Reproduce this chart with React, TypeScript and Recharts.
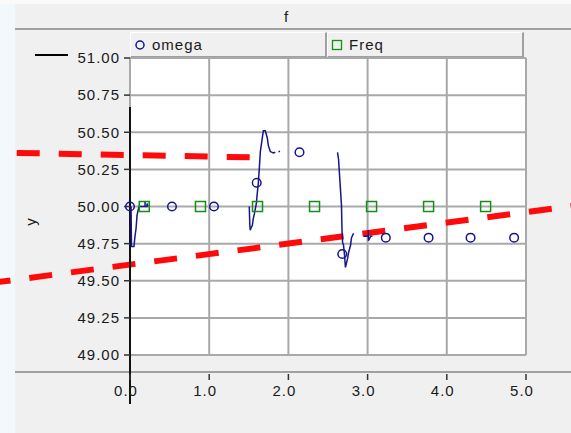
import React from 'react'
import { ComposedChart, Line, Scatter, XAxis, YAxis, CartesianGrid, ReferenceLine } from 'recharts'

// axis ticks
const xTicks = [0, 1, 2, 3, 4, 5]
const yTicks = [49, 49.25, 49.5, 49.75, 50, 50.25, 50.5, 50.75, 51]

// sampled points (circles / squares)
const omegaT = [0, 0.53, 1.06, 1.6, 2.14, 2.68, 3.23, 3.77, 4.3, 4.85]
const omegaV = [50.0, 50.0, 50.0, 50.16, 50.365, 49.68, 49.79, 49.79, 49.79, 49.79]
const freqT = [0.18, 0.89, 1.61, 2.33, 3.05, 3.77, 4.49]
const freqV = [50.0, 50.0, 50.0, 50.0, 50.0, 50.0, 50.0]

// continuous trace, null = gap
const traceT = [
  0.013, 0.019, 0.05, 0.063, 0.076, 0.089, 0.1, 0.114, 0.19, 0.19, 0.19, 0.215, 0.215, 0.228, 0.23,
  1.506, 1.513, 1.519, 1.53, 1.544, 1.557, 1.57, 1.595, 1.608, 1.62, 1.633, 1.646, 1.67, 1.684, 1.709, 1.734, 1.747, 1.772, 1.81, 1.835, 1.84,
  1.875, 1.895, 1.9,
  2.62, 2.633, 2.646, 2.658, 2.67, 2.677, 2.684, 2.696, 2.709, 2.72, 2.734, 2.747, 2.76, 2.785, 2.797, 2.823, 2.83,
  2.95, 2.99, 3.01, 3.01, 3.01, 3.04, 3.06,
]
const traceV = [
  50.0, 49.73, 49.73, 49.8, 49.85, 49.94, 49.97, 50.0, 50.0, 50.03, 50.0, 50.0, 50.02, 50.0, null,
  50.0, 49.87, 49.84, 49.86, 49.87, 49.92, 49.95, 50.02, 50.095, 50.155, 50.26, 50.37, 50.46, 50.51, 50.51, 50.46, 50.41, 50.37, 50.36, 50.365, null,
  50.37, 50.37, null,
  50.365, 50.32, 50.21, 50.11, 50.01, 49.84, 49.76, 49.74, 49.67, 49.59, 49.62, 49.65, 49.69, 49.74, 49.79, 49.82, null,
  49.8, 49.8, 49.8, 49.84, 49.77, 49.8, 49.8,
]

// overlay lines (endpoints in data units)
const upperT = [-1.43, 1.519]
const upperV = [50.361, 50.331]
const lowerT = [-1.797, 5.696]
const lowerV = [49.482, 50.011]
const markT = [0, 0]
const markV = [50.67, 48.67]

const seriesNames = ['omega', 'Freq']
const title = 'f'
const yLabel = 'y'

const FONT = '"Liberation Sans", Arial, sans-serif'
const NAVY = '#15158e'
const GREEN = '#119111'
const TXT = '#1a1a1a'

const omegaData = omegaT.map((t, i) => ({ t, v: omegaV[i] }))
const freqData = freqT.map((t, i) => ({ t, v: freqV[i] }))
const traceData = traceT.map((t, i) => ({ t, v: traceV[i] }))
const seg = (ts: number[], vs: number[]) => ts.map((t, i) => ({ x: t, y: vs[i] })) as any

const XTick = (p: any) => (
  <g>
    <line x1={p.x} x2={p.x} y1={374} y2={380} stroke="#333" strokeWidth={1.5} />
    <text x={p.x - 4} y={396} textAnchor="middle" fill={TXT} fontSize={15} fontFamily={FONT} style={{ letterSpacing: 1 }}>
      {Number(p.payload.value).toFixed(1)}
    </text>
  </g>
)

const cell: React.CSSProperties = {
  width: 197,
  height: 26,
  boxSizing: 'border-box',
  borderTop: '1px solid #fff',
  borderLeft: '1px solid #fff',
  borderRight: '2px solid #a0a0a0',
  borderBottom: '2px solid #a0a0a0',
  display: 'flex',
  alignItems: 'center',
  paddingLeft: 3,
  fontSize: 15,
  letterSpacing: 1,
  color: TXT,
}

export default function App() {
  return (
    <div style={{ position: 'absolute', left: 0, top: 0, width: 571, height: 433, background: '#f0f0f0', fontFamily: FONT, overflow: 'hidden' }}>
      <div style={{ position: 'absolute', left: 0, top: 0, width: 15, height: 433, background: '#f2f9fc' }} />
      <div style={{ position: 'absolute', left: 0, top: 0, width: 571, height: 4, background: '#fafafa' }} />
      <div style={{ position: 'absolute', left: 15, right: 0, top: 8, textAlign: 'center', fontSize: 15, color: TXT, paddingRight: 14 }}>{title}</div>
      <div style={{ position: 'absolute', left: 15, right: 0, top: 28, height: 2, background: '#a0a0a0' }} />
      <div style={{ position: 'absolute', left: 15, right: 0, top: 371, height: 2, background: '#a0a0a0' }} />
      <div style={{ position: 'absolute', left: 35, top: 54, width: 33, height: 1.5, background: '#000' }} />
      <div style={{ position: 'absolute', left: 130, top: 32, display: 'flex' }}>
        <div style={cell}>
          <svg width={12} height={12} style={{ marginRight: 6 }}>
            <circle cx={6} cy={6} r={4} fill="none" stroke={NAVY} strokeWidth={1.5} />
          </svg>
          {seriesNames[0]}
        </div>
        <div style={cell}>
          <svg width={12} height={12} style={{ marginRight: 6 }}>
            <rect x={1.5} y={1.5} width={9} height={9} fill="none" stroke={GREEN} strokeWidth={1.3} />
          </svg>
          {seriesNames[1]}
        </div>
      </div>
      <div style={{ position: 'absolute', left: 0, top: 0 }}>
        <ComposedChart width={571} height={433} margin={{ top: 58, right: 45, bottom: 48, left: 0 }}>
          <CartesianGrid stroke="#a9a9a9" strokeWidth={2} fill="#fff" />
          <XAxis
            dataKey="t"
            type="number"
            domain={[0, 5]}
            ticks={xTicks}
            interval={0}
            height={30}
            axisLine={false}
            tickLine={false}
            tick={<XTick />}
          />
          <YAxis
            dataKey="v"
            type="number"
            domain={[49, 51]}
            ticks={yTicks}
            interval={0}
            width={130}
            axisLine={false}
            tickLine={{ stroke: '#333', strokeWidth: 1.5 }}
            tickSize={6}
            tickMargin={4}
            tickFormatter={(v: number) => v.toFixed(2)}
            tick={{ fill: TXT, fontSize: 15, fontFamily: FONT, style: { letterSpacing: 1 } }}
            label={{
              content: () => (
                <text x={36} y={222} transform="rotate(-90 36 222)" textAnchor="middle" fill={TXT} fontSize={15} fontFamily={FONT}>
                  {yLabel}
                </text>
              ),
            }}
          />
          <ReferenceLine segment={seg(upperT, upperV)} stroke="#ff0a0a" strokeWidth={6} strokeDasharray="23 19" ifOverflow="visible" zIndex={350} />
          <ReferenceLine segment={seg(lowerT, lowerV)} stroke="#ff0a0a" strokeWidth={6} strokeDasharray="23 19" ifOverflow="visible" zIndex={350} />
          <ReferenceLine segment={seg(markT, markV)} stroke="#111" strokeWidth={2} ifOverflow="visible" zIndex={350} />
          <Line
            data={traceData}
            dataKey="v"
            type="linear"
            dot={false}
            activeDot={false}
            stroke={NAVY}
            strokeWidth={1.5}
            connectNulls={false}
            legendType="none"
            isAnimationActive={false}
          />
          <Scatter
            name={seriesNames[0]}
            data={omegaData}
            dataKey="v"
            isAnimationActive={false}
            shape={(p: any) => <circle cx={p.cx} cy={p.cy} r={4.3} fill="none" stroke={NAVY} strokeWidth={1.5} />}
          />
          <Scatter
            name={seriesNames[1]}
            data={freqData}
            dataKey="v"
            isAnimationActive={false}
            shape={(p: any) => <rect x={p.cx - 5} y={p.cy - 5} width={10} height={10} fill="none" stroke={GREEN} strokeWidth={1.5} />}
          />
        </ComposedChart>
      </div>
    </div>
  )
}
